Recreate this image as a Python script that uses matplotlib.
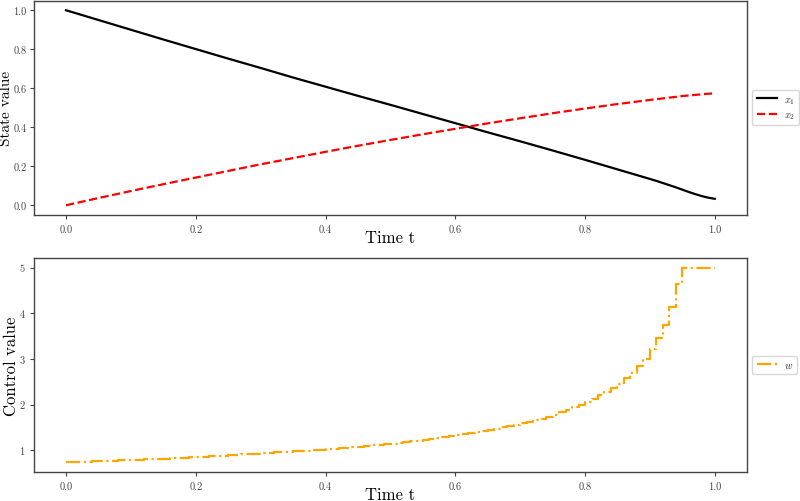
import numpy as np
import matplotlib
matplotlib.use("Agg")
import matplotlib.pyplot as plt

# ---- data ----
t_state = [0.00, 0.05, 0.10, 0.15, 0.20, 0.25, 0.30, 0.35, 0.40, 0.45,
           0.50, 0.55, 0.60, 0.65, 0.70, 0.75, 0.80, 0.85, 0.90, 0.91,
           0.92, 0.93, 0.94, 0.95, 0.96, 0.97, 0.98, 0.99, 1.00]
x1 = [1.000, 0.950, 0.900, 0.850, 0.801, 0.752, 0.704, 0.655, 0.608, 0.561,
      0.515, 0.468, 0.421, 0.374, 0.328, 0.281, 0.233, 0.184, 0.135, 0.125,
      0.114, 0.103, 0.092, 0.080, 0.068, 0.057, 0.047, 0.039, 0.033]
x2 = [0.000, 0.037, 0.073, 0.108, 0.142, 0.176, 0.210, 0.242, 0.274, 0.305,
      0.335, 0.364, 0.392, 0.420, 0.446, 0.472, 0.496, 0.519, 0.540, 0.544,
      0.548, 0.552, 0.556, 0.560, 0.563, 0.566, 0.569, 0.572, 0.574]

t_ctrl = [i / 100 for i in range(101)]
w = [0.740, 0.745, 0.750, 0.755, 0.760, 0.765, 0.770, 0.775, 0.780, 0.785,
     0.790, 0.796, 0.802, 0.808, 0.814, 0.820, 0.827, 0.834, 0.841, 0.848,
     0.855, 0.863, 0.871, 0.879, 0.887, 0.895, 0.904, 0.913, 0.922, 0.931,
     0.940, 0.948, 0.956, 0.964, 0.972, 0.980, 0.988, 0.996, 1.004, 1.012,
     1.020, 1.032, 1.044, 1.056, 1.068, 1.080, 1.094, 1.108, 1.122, 1.136,
     1.150, 1.166, 1.182, 1.198, 1.214, 1.230, 1.250, 1.270, 1.290, 1.310,
     1.330, 1.354, 1.378, 1.402, 1.426, 1.450, 1.478, 1.506, 1.534, 1.562,
     1.590, 1.622, 1.656, 1.692, 1.730, 1.772, 1.830, 1.880, 1.940, 1.990,
     2.050, 2.120, 2.210, 2.280, 2.360, 2.460, 2.590, 2.700, 2.850, 3.010,
     3.230, 3.450, 3.740, 4.150, 4.650, 5.000, 5.000, 5.000, 5.000, 5.000,
     5.000]

# ---- style ----
plt.rcParams['font.family'] = 'serif'
plt.rcParams['font.serif'] = ['cmr10', 'DejaVu Serif']
plt.rcParams['mathtext.fontset'] = 'cm'
plt.rcParams['axes.formatter.use_mathtext'] = True

spine_col = '#444444'
fig = plt.figure(figsize=(8.0, 5.02), dpi=100)
ax1 = fig.add_axes([0.042, 0.5697, 0.892, 0.4273])
ax2 = fig.add_axes([0.042, 0.0578, 0.892, 0.4263])

ax1.plot(t_state, x1, color='black', lw=1.6, label=r'$x_1$')
ax1.plot(t_state, x2, color='red', lw=1.6, ls='--', label=r'$x_2$')
ax2.step(t_ctrl, w, where='post', color='orange', lw=1.6, ls='-.', label=r'$w$')

ax1.set_ylabel('State value', fontsize=11)
ax2.set_ylabel('Control value', fontsize=12)
ax1.yaxis.set_label_coords(-0.0295, 0.5)
ax2.yaxis.set_label_coords(-0.020, 0.5)
for ax in (ax1, ax2):
    ax.set_xlabel('Time t', fontsize=12)
    ax.xaxis.set_label_coords(0.5, -0.068)
    ax.tick_params(labelsize=7.5, colors='#444444', length=3, width=0.8)
    for s in ax.spines.values():
        s.set_color(spine_col)
        s.set_linewidth(1.0)
    leg = ax.legend(loc='center left', bbox_to_anchor=(1.0, 0.5), fontsize=7.5,
                    frameon=True, fancybox=True, handlelength=2.0,
                    handletextpad=0.6, borderpad=0.4, labelspacing=0.4,
                    borderaxespad=0.5)
    leg.get_frame().set_edgecolor('#cccccc')
    for txt in leg.get_texts():
        txt.set_color('#333333')
ax1.tick_params(axis='y', pad=2.0)

ax1.set_yticks([0.0, 0.2, 0.4, 0.6, 0.8, 1.0])
ax2.set_yticks([1, 2, 3, 4, 5])
for ax in (ax1, ax2):
    ax.set_xticks([0.0, 0.2, 0.4, 0.6, 0.8, 1.0])
    ax.set_xticklabels(['0.0', '0.2', '0.4', '0.6', '0.8', '1.0'])
ax1.set_yticklabels(['0.0', '0.2', '0.4', '0.6', '0.8', '1.0'])
ax2.set_yticklabels(['1', '2', '3', '4', '5'])

fig.savefig('out.png', dpi=100)
